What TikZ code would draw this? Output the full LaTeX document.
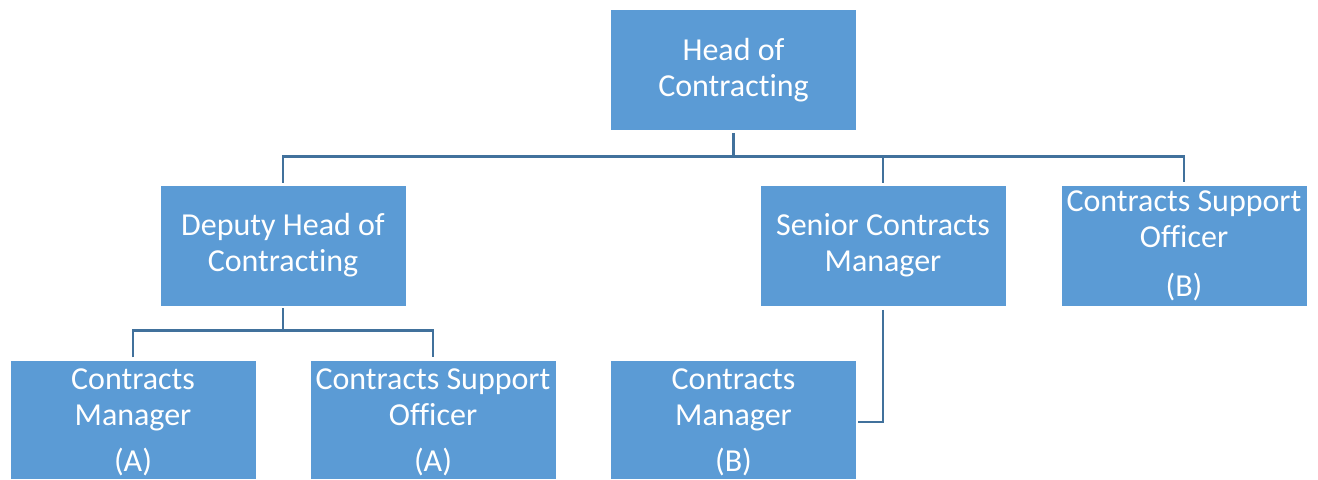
\documentclass[tikz,border=0pt]{standalone}
\usepackage{fontspec}
\setmainfont{Carlito}[Ligatures=NoCommon]
\usepackage{tikz}
\usetikzlibrary{positioning}
\usepackage{xcolor}
\definecolor{boxblue}{HTML}{5B9BD5}
\definecolor{lineblue}{HTML}{41719C}
\newcommand{\toppad}{\rule{0pt}{19pt}}

\begin{document}
\begin{tikzpicture}[x=0.75pt, y=0.75pt,
  role/.style = {fill=boxblue, text=white, align=center, inner sep=0pt,
    minimum width=183.75pt, minimum height=90pt,
    font=\fontsize{24}{27}\selectfont},
  lowrole/.style = {role, minimum height=88.5pt},
  link/.style = {draw=lineblue, line width=1.9pt}]
\useasboundingbox (0,0) rectangle (1318,-479);

\node[role] (head) at (733.5,-70) {Head of\\Contracting};
\node[role] (deputy) at (283,-245.5) {Deputy Head of\\Contracting};
\node[role] (senior) at (883,-245.5) {Senior Contracts\\Manager};
\node[role] (csoB) at (1184,-245.5) {Contracts Support\\Officer\\[10pt](B)};
\node[lowrole] (cmA) at (133,-420) {\toppad Contracts\\Manager\\[8pt](A)};
\node[lowrole] (csoA) at (433,-420) {\toppad Contracts Support\\Officer\\[8pt](A)};
\node[lowrole] (cmB) at (733.5,-420) {\toppad Contracts\\Manager\\[8pt](B)};

% top level
\coordinate (bus) at ([yshift=-19.5pt]head.south);
\draw[link] ([yshift=-2pt]head.south) -- (bus);
\draw[link] ([yshift=2pt]deputy.north) |- (bus) -| ([yshift=2.5pt]csoB.north);
\draw[link] ([yshift=2pt]senior.north) -- (senior.north |- bus);

% deputy team
\coordinate (dbus) at ([yshift=-18.5pt]deputy.south);
\draw[link] ([yshift=-2pt]deputy.south) -- (dbus);
\draw[link] ([yshift=2.5pt]cmA.north) |- (dbus) -| ([yshift=2.5pt]csoA.north);

% senior team
\draw[link] ([yshift=-3pt]senior.south) |- ([xshift=1.5pt,yshift=-1.5pt]cmB.east);
\end{tikzpicture}
\end{document}
